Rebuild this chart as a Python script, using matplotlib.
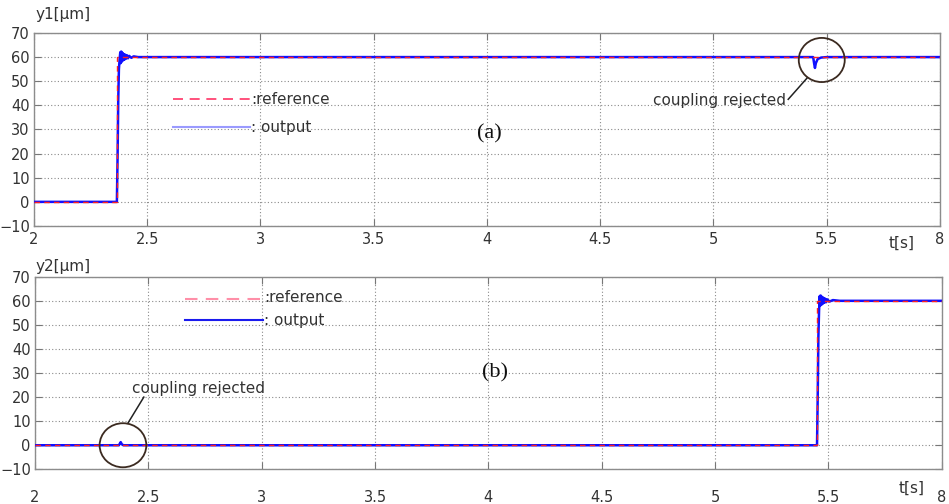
import numpy as np
import matplotlib
matplotlib.use("Agg")
import matplotlib.pyplot as plt
from matplotlib.patches import Ellipse

# x tick positions and the labels as printed on the figure (last one reads "8")
xticks = [2, 2.5, 3, 3.5, 4, 4.5, 5, 5.5, 6]
xticklabels = ["2", "2.5", "3", "3.5", "4", "4.5", "5", "5.5", "8"]
yticks = [-10, 0, 10, 20, 30, 40, 50, 60, 70]

# y1: reference step and measured output
t_ref1 = [2.0, 2.368, 2.368, 6.0]
y_ref1 = [0, 0, 60, 60]
t_out1 = [2.0, 2.366, 2.369, 2.372, 2.375, 2.378, 2.381, 2.383,
          2.385, 2.387, 2.389, 2.391, 2.393, 2.395, 2.397, 2.400, 2.403, 2.406,
          2.410, 2.415, 2.420, 2.430, 2.440, 2.460, 5.440,
          5.445, 5.448, 5.452, 5.460, 5.475, 5.50, 6.0]
y_out1 = [0, 0, 18, 42, 55, 59, 62, 57.5,
          62.3, 58, 61.8, 58.5, 61.5, 58.8, 61.2, 59, 61, 59.3,
          60.8, 59.5, 60.5, 59.7, 60.3, 60, 60,
          57, 55.5, 57.5, 59.2, 59.8, 60, 60]

# y2: reference step and measured output
t_out2 = [2.0, 2.370, 2.378, 2.383, 2.390, 5.450,
          5.453, 5.456, 5.459, 5.462, 5.464, 5.466, 5.468, 5.470, 5.472, 5.474,
          5.476, 5.479, 5.482, 5.486, 5.490, 5.495, 5.505, 5.52, 5.55, 6.0]
y_out2 = [0, 0, 1.3, 0.4, 0, 0,
          20, 45, 56, 62, 58, 62.2, 58.3, 61.8, 58.6, 61.5,
          58.9, 61.2, 59.2, 60.9, 59.4, 60.6, 59.7, 60.3, 60, 60]
t_ref2 = [2.0, 5.452, 5.452, 6.0]
y_ref2 = [0, 0, 60, 60]

TXT = "#333333"
plt.rcParams["font.family"] = "DejaVu Sans"

fig = plt.figure(figsize=(9.49, 5.04), dpi=100)
ax1 = fig.add_axes([0.0358, 0.5516, 0.9547, 0.383])
ax2 = fig.add_axes([0.0369, 0.0688, 0.9554, 0.3821])


def style(ax, pad):
    ax.set_xlim(2, 6)
    ax.set_ylim(-10, 70)
    ax.set_xticks(xticks)
    ax.set_xticklabels(xticklabels)
    ax.set_yticks(yticks)
    ax.grid(True, color="#8a8a8a", linestyle=(0, (1, 2)), linewidth=0.8)
    ax.tick_params(direction="in", top=True, right=True, length=5,
                   color="#777777", labelcolor=TXT, labelsize=10.5)
    ax.tick_params(axis="x", pad=pad)
    ax.tick_params(axis="y", pad=3)
    for s in ax.spines.values():
        s.set_color("#8c8c8c")
        s.set_linewidth(1.0)


style(ax1, 4)
style(ax2, 15)

# traces
ax1.plot(t_out1, y_out1, color="#1010ff", lw=1.8, zorder=3)
ax1.plot(t_ref1, y_ref1, color="#ff2020", lw=1.0, ls=(0, (4, 3)), zorder=4)
ax2.plot(t_out2, y_out2, color="#1010ff", lw=1.8, zorder=3)
ax2.plot(t_ref2, y_ref2, color="#ff2020", lw=1.0, ls=(0, (4, 3)), zorder=4)

# hand-drawn legends
ax1.plot([2.614, 2.954], [42.6, 42.6], color="#ff3366", lw=1.2, ls=(0, (6, 4)))
ax1.plot([2.614, 2.954], [31, 31], color="#9a9aff", lw=1.5)
ax1.text(2.958, 42.6, ":reference", color=TXT, fontsize=11, va="center")
ax1.text(2.958, 31, ": output", color=TXT, fontsize=11, va="center")
ax2.plot([2.662, 3.006], [60.6, 60.6], color="#ff8fa8", lw=1.5, ls=(0, (6, 4)))
ax2.plot([2.662, 3.006], [52, 52], color="#1a1aee", lw=1.5)
ax2.text(3.01, 61.5, ":reference", color=TXT, fontsize=11, va="center")
ax2.text(3.01, 52, ": output", color=TXT, fontsize=11, va="center")

# panel labels
ax1.text(4.01, 28, "(a)", family="Liberation Serif", fontsize=16, ha="center",
         va="center", color="#111111")
ax2.text(4.03, 30, "(b)", family="Liberation Serif", fontsize=16, ha="center",
         va="center", color="#111111")

# annotations
ax1.add_patch(Ellipse((5.478, 58.8), 0.203, 18.3, fill=False,
                      edgecolor="#3b2a20", lw=1.3, zorder=5))
ax1.plot([5.33, 5.415], [42.5, 51.5], color="#222222", lw=1.1)
ax1.text(5.32, 42.2, "coupling rejected", color=TXT, fontsize=11,
         ha="right", va="center")
ax2.add_patch(Ellipse((2.388, 0), 0.206, 18.3, fill=False,
                      edgecolor="#3b2a20", lw=1.3, zorder=5))
ax2.plot([2.41, 2.48], [9.2, 20.0], color="#222222", lw=1.1)
ax2.text(2.43, 23.7, "coupling rejected", color=TXT, fontsize=11,
         ha="left", va="center")

# axis titles
fig.text(35 / 949, 1 - 15 / 504, "y1[\u03bcm]", color=TXT, fontsize=11, va="center")
fig.text(35 / 949, 1 - 267 / 504, "y2[\u03bcm]", color=TXT, fontsize=11, va="center")
fig.text(889 / 949, 1 - 243 / 504, "t[s]", color=TXT, fontsize=11, va="center")
fig.text(899 / 949, 1 - 488 / 504, "t[s]", color=TXT, fontsize=11, va="center")

fig.savefig("out.png", dpi=100)
